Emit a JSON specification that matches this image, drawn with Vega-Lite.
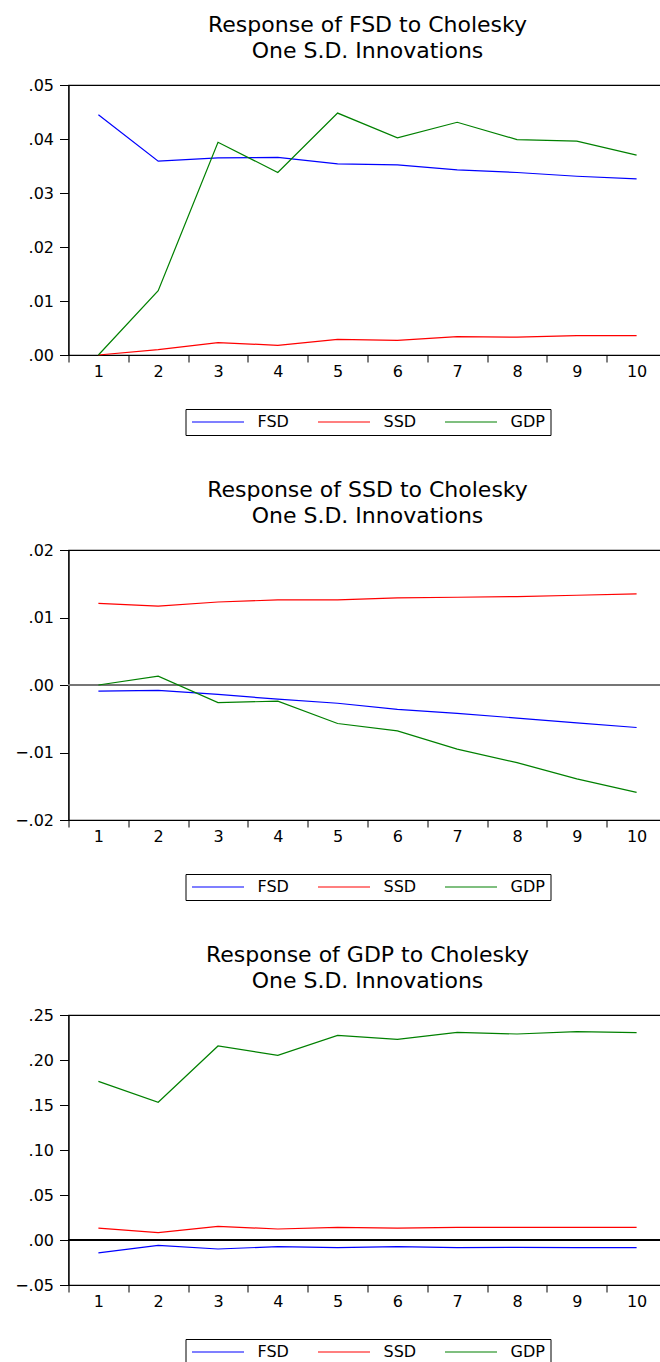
{
  "$schema": "https://vega.github.io/schema/vega-lite/v6.json",
  "background": "white",
  "padding": {"left": 13.5, "top": 13, "right": 0, "bottom": 0},
  "datasets": {
    "p1": [
      {"h":1,"s":"FSD","v":0.0445},{"h":2,"s":"FSD","v":0.0359},{"h":3,"s":"FSD","v":0.0365},{"h":4,"s":"FSD","v":0.0366},{"h":5,"s":"FSD","v":0.0354},{"h":6,"s":"FSD","v":0.0352},{"h":7,"s":"FSD","v":0.0343},{"h":8,"s":"FSD","v":0.0338},{"h":9,"s":"FSD","v":0.0331},{"h":10,"s":"FSD","v":0.0326},
      {"h":1,"s":"SSD","v":0.0000},{"h":2,"s":"SSD","v":0.0010},{"h":3,"s":"SSD","v":0.0023},{"h":4,"s":"SSD","v":0.0018},{"h":5,"s":"SSD","v":0.0029},{"h":6,"s":"SSD","v":0.0027},{"h":7,"s":"SSD","v":0.0034},{"h":8,"s":"SSD","v":0.0033},{"h":9,"s":"SSD","v":0.0036},{"h":10,"s":"SSD","v":0.0036},
      {"h":1,"s":"GDP","v":0.0000},{"h":2,"s":"GDP","v":0.0119},{"h":3,"s":"GDP","v":0.0394},{"h":4,"s":"GDP","v":0.0338},{"h":5,"s":"GDP","v":0.0448},{"h":6,"s":"GDP","v":0.0402},{"h":7,"s":"GDP","v":0.0431},{"h":8,"s":"GDP","v":0.0399},{"h":9,"s":"GDP","v":0.0396},{"h":10,"s":"GDP","v":0.0370}
    ],
    "p2": [
      {"h":1,"s":"FSD","v":-0.0009},{"h":2,"s":"FSD","v":-0.0008},{"h":3,"s":"FSD","v":-0.0014},{"h":4,"s":"FSD","v":-0.0021},{"h":5,"s":"FSD","v":-0.0027},{"h":6,"s":"FSD","v":-0.0036},{"h":7,"s":"FSD","v":-0.0042},{"h":8,"s":"FSD","v":-0.0049},{"h":9,"s":"FSD","v":-0.0056},{"h":10,"s":"FSD","v":-0.0063},
      {"h":1,"s":"SSD","v":0.0121},{"h":2,"s":"SSD","v":0.0117},{"h":3,"s":"SSD","v":0.0123},{"h":4,"s":"SSD","v":0.0126},{"h":5,"s":"SSD","v":0.0126},{"h":6,"s":"SSD","v":0.0129},{"h":7,"s":"SSD","v":0.0130},{"h":8,"s":"SSD","v":0.0131},{"h":9,"s":"SSD","v":0.0133},{"h":10,"s":"SSD","v":0.0135},
      {"h":1,"s":"GDP","v":0.0000},{"h":2,"s":"GDP","v":0.0013},{"h":3,"s":"GDP","v":-0.0026},{"h":4,"s":"GDP","v":-0.0024},{"h":5,"s":"GDP","v":-0.0057},{"h":6,"s":"GDP","v":-0.0068},{"h":7,"s":"GDP","v":-0.0095},{"h":8,"s":"GDP","v":-0.0115},{"h":9,"s":"GDP","v":-0.0139},{"h":10,"s":"GDP","v":-0.0159}
    ],
    "p3": [
      {"h":1,"s":"FSD","v":-0.0144},{"h":2,"s":"FSD","v":-0.0059},{"h":3,"s":"FSD","v":-0.0100},{"h":4,"s":"FSD","v":-0.0074},{"h":5,"s":"FSD","v":-0.0085},{"h":6,"s":"FSD","v":-0.0074},{"h":7,"s":"FSD","v":-0.0085},{"h":8,"s":"FSD","v":-0.0081},{"h":9,"s":"FSD","v":-0.0085},{"h":10,"s":"FSD","v":-0.0085},
      {"h":1,"s":"SSD","v":0.0133},{"h":2,"s":"SSD","v":0.0081},{"h":3,"s":"SSD","v":0.0152},{"h":4,"s":"SSD","v":0.0122},{"h":5,"s":"SSD","v":0.0140},{"h":6,"s":"SSD","v":0.0133},{"h":7,"s":"SSD","v":0.0141},{"h":8,"s":"SSD","v":0.0141},{"h":9,"s":"SSD","v":0.0141},{"h":10,"s":"SSD","v":0.0141},
      {"h":1,"s":"GDP","v":0.1763},{"h":2,"s":"GDP","v":0.1530},{"h":3,"s":"GDP","v":0.2156},{"h":4,"s":"GDP","v":0.2052},{"h":5,"s":"GDP","v":0.2274},{"h":6,"s":"GDP","v":0.2230},{"h":7,"s":"GDP","v":0.2307},{"h":8,"s":"GDP","v":0.2289},{"h":9,"s":"GDP","v":0.2315},{"h":10,"s":"GDP","v":0.2304}
    ]
  },
  "bounds": "flush",
  "spacing": 195,
  "resolve": {"scale": {"color": "independent", "y": "independent", "x": "independent"}, "legend": {"color": "independent"}},
  "vconcat": [
    {
      "width": 598, "height": 270,
      "title": {"text": ["Response of FSD to Cholesky", "One S.D. Innovations"]},
      "data": {"name": "p1"},
      "mark": {"type": "line", "strokeWidth": 1.2},
      "encoding": {
        "x": {"field": "h", "type": "ordinal", "bandPosition": 0.5, "scale": {"type": "band", "paddingInner": 0, "paddingOuter": 0}, "axis": {"title": null}},
        "y": {"field": "v", "type": "quantitative", "scale": {"domain": [0, 0.05], "nice": false, "zero": false}, "axis": {"title": null, "values": [0, 0.01, 0.02, 0.03, 0.04, 0.05]}},
        "color": {"field": "s", "type": "nominal", "scale": {"domain": ["FSD", "SSD", "GDP"], "range": ["#0000FF", "#FF0000", "#008000"]}, "legend": {"title": null}}
      }
    },
    {
      "width": 598, "height": 270,
      "title": {"text": ["Response of SSD to Cholesky", "One S.D. Innovations"]},
      "data": {"name": "p2"},
      "layer": [
        {"mark": {"type": "rule", "color": "#777777", "strokeWidth": 1.2}, "encoding": {"y": {"datum": 0, "type": "quantitative"}}},
        {
          "mark": {"type": "line", "strokeWidth": 1.2},
          "encoding": {
            "x": {"field": "h", "type": "ordinal", "bandPosition": 0.5, "scale": {"type": "band", "paddingInner": 0, "paddingOuter": 0}, "axis": {"title": null}},
            "y": {"field": "v", "type": "quantitative", "scale": {"domain": [-0.02, 0.02], "nice": false, "zero": false}, "axis": {"title": null, "values": [-0.02, -0.01, 0, 0.01, 0.02]}},
            "color": {"field": "s", "type": "nominal", "scale": {"domain": ["FSD", "SSD", "GDP"], "range": ["#0000FF", "#FF0000", "#008000"]}, "legend": {"title": null}}
          }
        }
      ]
    },
    {
      "width": 598, "height": 270,
      "title": {"text": ["Response of GDP to Cholesky", "One S.D. Innovations"]},
      "data": {"name": "p3"},
      "layer": [
        {"mark": {"type": "rule", "color": "#000000", "strokeWidth": 1.2}, "encoding": {"y": {"datum": 0, "type": "quantitative"}}},
        {
          "mark": {"type": "line", "strokeWidth": 1.2},
          "encoding": {
            "x": {"field": "h", "type": "ordinal", "bandPosition": 0.5, "scale": {"type": "band", "paddingInner": 0, "paddingOuter": 0}, "axis": {"title": null}},
            "y": {"field": "v", "type": "quantitative", "scale": {"domain": [-0.05, 0.25], "nice": false, "zero": false}, "axis": {"title": null, "values": [-0.05, 0, 0.05, 0.1, 0.15, 0.2, 0.25]}},
            "color": {"field": "s", "type": "nominal", "scale": {"domain": ["FSD", "SSD", "GDP"], "range": ["#0000FF", "#FF0000", "#008000"]}, "legend": {"title": null}}
          }
        }
      ]
    }
  ],
  "config": {
    "font": "DejaVu Sans",
    "view": {"stroke": "#000000", "strokeWidth": 1.2},
    "title": {"font": "DejaVu Sans", "fontSize": 22, "fontWeight": "normal", "color": "#000000", "lineHeight": 26, "offset": 14, "anchor": "middle", "frame": "group"},
    "axisX": {"tickBand": "extent", "labelAngle": 0, "labelFontSize": 16, "labelFont": "DejaVu Sans", "labelColor": "#000000", "tickSize": 7, "tickColor": "#000000", "domainColor": "#000000", "labelPadding": 1.5, "grid": false},
    "axisY": {"labelFontSize": 16, "labelFont": "DejaVu Sans", "labelColor": "#000000", "tickSize": 9, "tickColor": "#000000", "domainColor": "#000000", "labelPadding": 6, "grid": false, "labelExpr": "replace(format(datum.value, '.2f'), '0.', '.')"},
    "legend": {"orient": "bottom", "direction": "horizontal", "symbolType": "M-1,0H7", "symbolSize": 169, "symbolStrokeWidth": 1.2, "labelFontSize": 16, "labelFont": "DejaVu Sans", "labelColor": "#000000", "strokeColor": "#000000", "padding": 5, "columnPadding": 26, "labelOffset": 51, "offset": 28.5, "layout": {"bottom": {"anchor": "middle"}}}
  }
}
